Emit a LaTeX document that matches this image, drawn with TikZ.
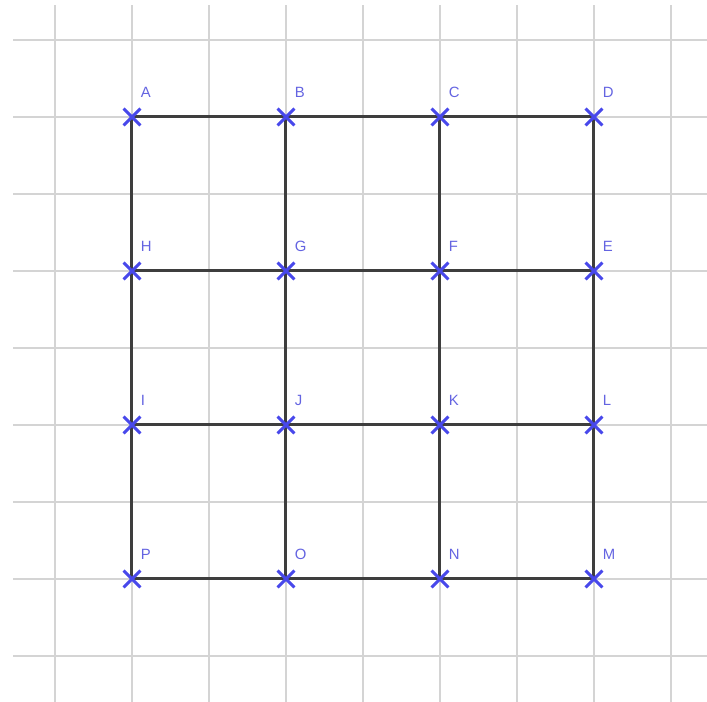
\documentclass[tikz,border=0pt]{standalone}
\usepackage{fontspec}
\setmainfont{Liberation Sans}
\usetikzlibrary{shapes.misc,positioning,backgrounds}
\definecolor{gridgrey}{RGB}{212,212,212}
\definecolor{segdark}{RGB}{62,62,62}
\definecolor{ptblue}{RGB}{72,72,235}
\definecolor{labblue}{RGB}{100,100,225}
\tikzset{
	pt/.style={cross out, draw=ptblue, line width=1.1pt, minimum size=0.18cm, inner sep=0pt},
	lab/.style={text=labblue, inner sep=0pt, font=\fontsize{5.5}{6}\selectfont},
	seg/.style={draw=segdark, line width=1.1pt},
}
\begin{document}
	\begin{tikzpicture}
		\useasboundingbox (-0.714, -0.597) rectangle (8.468, 8.519);
		% points, row by row
		\foreach \n/\x/\y in {A/1/7, B/3/7, C/5/7, D/7/7,
				H/1/5, G/3/5, F/5/5, E/7/5,
				I/1/3, J/3/3, K/5/3, L/7/3,
				P/1/1, O/3/1, N/5/1, M/7/1}{
			\node[pt] (\n) at (\x, \y) {};
			\node[lab, above right=0.14cm and 0.0cm of \n] (lab\n) {\n};
		}
		\begin{scope}[on background layer]
			\foreach \i in {0, 1, ..., 8}{
				\draw[gridgrey, line width=0.5pt] (\i, -0.597) -- (\i, 8.455);
				\draw[gridgrey, line width=0.5pt] (-0.545, \i) -- (8.468, \i);
			}
			\draw[seg] (A.center) -- (D.center);
			\draw[seg] (H.center) -- (E.center);
			\draw[seg] (I.center) -- (L.center);
			\draw[seg] (P.center) -- (M.center);
			\draw[seg] (A.center) -- (P.center);
			\draw[seg] (B.center) -- (O.center);
			\draw[seg] (C.center) -- (N.center);
			\draw[seg] (D.center) -- (M.center);
		\end{scope}
	\end{tikzpicture}
\end{document}
